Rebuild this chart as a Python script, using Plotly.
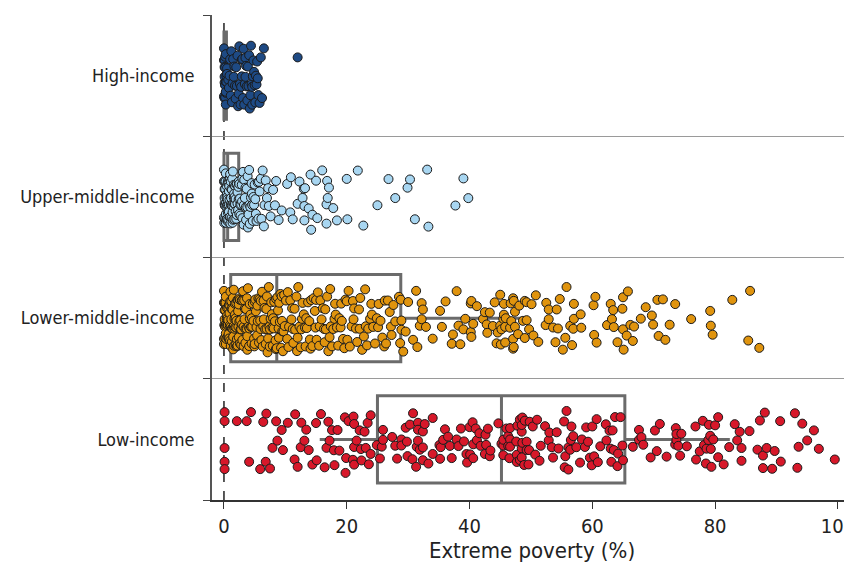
import plotly.graph_objects as go

categories = ["Low-income", "Lower-middle-income", "Upper-middle-income", "High-income"]
x_ticks = [0, 20, 40, 60, 80, 100]

high_income = [
    0.0, 0.0, 0.1, 0.1, 0.1, 0.2, 0.2, 0.2, 0.3, 0.3, 0.3, 0.3, 0.4, 0.4, 0.5, 0.5, 0.0, 0.1, 0.2, 0.3, 0.1, 0.2,
    0.7, 0.9, 1.1, 1.2, 1.4, 1.5, 1.7, 1.8, 2.0, 2.1, 2.2, 2.4, 2.5, 2.6, 2.8, 2.9, 3.0, 3.1, 3.3, 3.4, 3.5, 3.6,
    3.8, 3.9, 4.0, 4.1, 4.3, 4.4, 4.5, 4.6, 4.8, 4.9, 5.0, 5.2, 5.3, 5.5, 5.6, 5.8, 6.0, 6.2, 6.5, 1.0, 1.6, 2.3,
    2.7, 3.2, 3.7, 4.2, 4.7, 5.1, 5.4, 0.8, 1.3, 1.9, 2.9, 3.5, 4.6, 12.0,
]

upper_middle_income = [
    0.0, 0.0, 0.0, 0.1, 0.1, 0.1, 0.1, 0.2, 0.2, 0.2, 0.3, 0.3, 0.3, 0.4, 0.4, 0.4, 0.5, 0.5, 0.5, 0.6, 0.6, 0.6,
    0.7, 0.7, 0.7, 0.8, 0.8, 0.8, 0.9, 0.9, 1.0, 1.0, 1.0, 1.1, 1.1, 1.2, 1.2, 1.3, 1.3, 1.4, 1.4, 1.5, 1.5, 1.6,
    1.6, 1.7, 1.7, 1.8, 1.8, 1.9, 1.9, 2.0, 2.0, 2.1, 2.1, 2.2, 2.2, 2.3, 2.4, 2.4, 2.5, 2.5, 2.6, 2.7, 2.8, 2.9,
    3.0, 3.0, 3.1, 3.2, 3.3, 3.4, 3.5, 3.6, 3.7, 3.8, 3.9, 4.0, 4.1, 4.2, 4.3, 4.4, 4.5, 4.6, 4.7, 4.8, 4.9, 5.0,
    5.2, 5.3, 5.5, 5.6, 5.8, 6.0, 6.1, 6.3, 6.5, 6.8, 7.0, 7.3, 7.6, 8.0, 8.3, 0.05, 0.15, 0.25, 0.35, 0.45, 0.55,
    0.65, 0.75, 0.85, 0.95, 1.05, 1.15, 1.25, 1.35, 1.45, 1.55, 1.65, 1.75, 2.35, 2.65, 2.95, 3.25, 3.55, 3.85,
    4.15, 4.55, 5.1, 5.7, 6.6, 7.2,
    8.5, 8.9, 9.4, 10.3, 10.9, 10.8, 11.2, 12.0, 12.3, 12.8, 13.0, 13.1, 13.1, 13.2, 13.8, 14.1, 14.2, 14.4, 15.0,
    15.2, 16.0, 16.7, 16.7, 16.8, 16.9, 17.1, 17.8, 18.4, 20.0, 20.1, 21.8, 22.7, 25.0, 26.8, 27.9, 29.9, 30.3,
    31.1, 33.1, 33.3, 37.7, 39.0, 39.8,
]

lower_middle_income = [
    0.0, 0.0, 0.0, 0.0, 0.1, 0.1, 0.1, 0.2, 0.2, 0.2, 0.3, 0.3, 0.3, 0.4, 0.4, 0.5, 0.5, 0.6, 0.6, 0.7, 0.7, 0.8,
    0.8, 0.9, 0.9, 1.0, 1.0, 1.1, 1.1, 1.2, 1.2, 1.3, 1.3, 1.4, 1.4, 1.5, 1.5, 1.6, 1.6, 1.7, 1.7, 1.8, 1.8, 1.9,
    1.9, 2.0, 2.0, 2.1, 2.1, 2.2, 2.2, 2.3, 2.3, 2.4, 2.4, 2.5, 2.5, 2.6, 2.6, 2.7, 2.8, 2.8, 2.9, 3.0, 3.0, 3.1,
    3.2, 3.2, 3.3, 3.4, 3.5, 3.5, 3.6, 3.7, 3.8, 3.8, 3.9, 4.0, 4.1, 4.2, 4.2, 4.3, 4.4, 4.5, 4.6, 4.7, 4.8, 4.9,
    5.0, 5.0, 5.1, 5.2, 5.3, 5.4, 5.5, 5.6, 5.7, 5.8, 5.9, 6.0, 6.1, 6.2, 6.3, 6.4, 6.5, 6.6, 6.7, 6.8, 6.9, 7.0,
    7.1, 7.2, 7.3, 7.4, 7.5, 7.6, 7.7, 7.8, 7.9, 8.0, 8.1, 8.2, 8.3, 8.4, 8.5, 8.6, 8.7, 8.8, 8.9, 9.0, 9.1, 9.2,
    9.3, 9.4, 9.5, 9.6, 9.7, 9.8, 9.9, 0.05, 0.15, 0.25, 0.35, 0.45, 0.55, 0.65, 0.75, 0.85, 0.95, 1.05, 1.25,
    1.45, 1.65, 1.85, 2.05, 2.35, 2.65, 2.95, 3.35, 3.75, 4.15, 4.55, 4.95, 5.45, 5.95, 6.45, 6.95, 7.45, 7.95,
    8.45, 8.95, 9.45,
    10.1, 10.3, 10.5, 10.6, 10.8, 11.0, 11.1, 11.3, 11.5, 11.6, 11.8, 12.0, 12.1, 12.3, 12.5, 12.7, 12.8, 13.0,
    13.2, 13.4, 13.5, 13.7, 13.9, 14.0, 14.2, 14.4, 14.6, 14.8, 15.0, 15.1, 15.3, 15.5, 15.7, 15.9, 16.1, 16.3,
    16.5, 16.6, 16.8, 17.0, 17.2, 17.4, 17.6, 17.8, 18.0, 18.2, 18.4, 18.6, 18.8, 19.0, 19.2, 19.4, 19.6, 19.8,
    20.0, 20.3, 20.5, 20.8, 21.0, 21.2, 21.5, 21.7, 22.0, 22.2, 22.5, 22.8, 23.0, 23.3, 23.5, 23.8, 24.0, 24.3,
    24.6, 24.9, 25.2, 25.5, 25.8, 26.1, 26.4, 26.7, 27.0, 27.3, 27.6, 27.9, 10.4, 11.2, 11.9, 12.6, 13.3, 14.1,
    14.9, 15.6, 16.4, 17.3, 18.1, 19.1, 20.1, 21.1, 22.1, 23.1, 24.1, 25.1, 26.2, 27.2,
    28.5, 29.2, 30.0, 31.9, 32.2, 28.7, 28.9, 28.8, 28.9, 29.6, 30.8, 31.3, 31.5, 32.2, 32.4, 32.9, 34.0, 35.2,
    35.5, 36.1, 37.1, 37.3, 37.9, 38.2, 38.5, 39.0, 39.3, 40.2, 40.3, 40.2, 40.3, 40.6, 41.2, 42.2, 42.5, 42.8,
    42.9, 43.3, 43.8, 44.1, 44.4, 44.6, 45.1, 45.2, 45.6, 45.8, 46.8, 47.1, 47.1, 47.4, 48.1, 49.0, 49.3,
    45.0, 47.1, 47.2, 46.6, 47.4, 45.5, 45.0, 45.6, 45.8, 45.9, 46.7, 47.2, 47.9, 48.7, 49.0, 49.3, 49.7, 50.1,
    50.4, 51.2,
    50.8, 52.4, 52.5, 52.9, 52.9, 53.6, 54.0, 54.2, 54.4, 54.7, 55.6, 55.2, 55.8, 56.4, 56.9, 56.7, 57.0, 57.0,
    58.2, 58.1, 60.2, 60.5, 60.3, 60.7, 62.4, 63.5, 63.4, 63.0, 63.2, 64.1, 65.0, 65.6, 65.0, 65.1, 64.9, 65.8,
    66.6, 66.2, 66.8, 67.9, 68.7, 69.7, 69.9, 70.6, 70.8, 71.5, 71.9, 72.6, 73.5, 76.1, 79.2, 79.3, 79.6, 82.8,
    85.4, 85.7, 87.2,
]

low_income = [
    0.1, 0.1, 0.1, 0.1, 0.1, 2.1, 3.7, 4.1, 4.4, 5.9, 6.4, 6.8, 6.9, 7.5, 7.9, 8.7, 8.5, 9.6, 9.4, 10.4,
    11.6, 11.5, 12.0, 12.6, 12.5, 13.4, 13.1, 13.8, 14.4, 15.0, 15.1, 15.8, 16.7, 17.2, 17.6, 17.9, 18.5, 19.7,
    19.8, 19.9, 20.3, 21.0, 21.2, 21.1, 21.2, 21.2, 21.6, 22.1, 22.3, 22.4, 22.9, 23.1, 23.6, 23.4, 23.9, 23.9,
    24.9, 25.4, 25.7, 25.9, 25.9, 17.0, 18.0, 18.8, 16.4,
    27.9, 27.4, 28.2, 28.9, 28.9, 29.6, 29.8, 29.9, 30.3, 30.7, 30.8, 31.4, 31.6, 31.6, 31.6, 31.3, 31.9, 32.4,
    32.4, 32.4, 32.7, 33.3, 34.0, 34.0, 35.1, 35.2, 35.3, 35.7, 36.0, 36.5, 36.8, 37.1, 37.9, 38.2, 38.6, 39.1,
    39.5, 39.6, 40.0, 40.1, 40.5, 40.6, 40.6, 41.0, 41.2, 41.6, 41.8, 42.5, 42.6, 42.7, 43.0, 43.3, 43.4, 44.7,
    45.2, 45.5, 46.3, 46.6, 47.7, 48.2, 48.5, 48.6, 49.0, 46.6, 47.6, 48.5,
    45.5, 45.5, 46.3, 46.0, 46.5, 46.6, 47.7, 47.8, 48.2, 48.5, 48.5, 48.6, 48.9, 49.3, 49.3, 49.6, 49.7, 49.8,
    50.3, 50.7, 51.0, 51.4, 51.6, 52.3, 52.9, 53.0, 53.4, 53.6, 54.2, 54.5, 55.4, 55.5, 55.6, 55.8, 56.1, 56.1,
    56.4, 56.5, 56.6, 56.9, 57.4, 58.0, 58.3, 58.8, 59.0, 59.3, 59.6, 59.9, 60.0, 60.3, 60.7, 60.9, 61.3, 62.2,
    62.3, 62.8, 63.0, 63.1, 63.3, 63.5, 63.7, 64.1, 64.2, 64.6, 65.0, 64.9,
    66.6, 67.6, 67.6, 68.0, 68.3, 69.5, 70.2, 70.5, 71.0, 72.1, 73.5, 73.6, 73.7, 73.7, 74.0, 74.3, 74.5, 75.4,
    76.8, 76.9, 77.5, 78.0, 78.2, 78.5, 78.6, 78.9, 79.0, 79.2, 79.3, 79.4, 79.7, 80.0, 80.5, 80.5, 81.4, 82.3,
    83.2, 83.6, 84.0, 84.3, 84.3, 85.6, 86.9, 87.3, 87.8, 87.8, 88.1, 88.4, 89.3, 89.7, 90.6, 90.7, 93.0, 93.4,
    93.6, 94.2, 95.0, 96.1, 96.9, 99.5,
]

# Box summary statistics (q1, median, q3, lower whisker, upper whisker)
box_q1 = [25.0, 1.1, 0.0, 0.0]
box_median = [45.2, 8.6, 0.6, 0.1]
box_q3 = [65.3, 28.8, 2.4, 0.4]
box_lower = [15.6, 0.0, 0.0, 0.0]
box_upper = [82.4, 48.5, 5.5, 0.8]

series = [low_income, lower_middle_income, upper_middle_income, high_income]
colors = ["#D7182A", "#E0940E", "#A8D6F1", "#1E4A84"]

centers = [0.5, 1.5, 2.5, 3.5]
bin_edges = [0, 1, 3, 6, 10, 15, 20, 30, 40, 50, 60, 70, 80, 90, 101]

fig = go.Figure()

# boxes (drawn beneath the points)
for i, c in enumerate(categories):
    fig.add_trace(go.Box(
        y=[centers[i]], q1=[box_q1[i]], median=[box_median[i]], q3=[box_q3[i]],
        lowerfence=[box_lower[i]], upperfence=[box_upper[i]],
        orientation="h", width=0.72, whiskerwidth=0,
        fillcolor="rgba(0,0,0,0)", line=dict(color="#6b6b6b", width=3),
        boxpoints=False, showlegend=False, hoverinfo="skip",
    ))

# jittered points, split into value ranges so sparse tails spread too
for i, c in enumerate(categories):
    vals = sorted(series[i])
    for a, b in zip(bin_edges[:-1], bin_edges[1:]):
        chunk = [v for v in vals if a <= v < b]
        if not chunk:
            continue
        fig.add_trace(go.Box(
            x=chunk, y0=centers[i], orientation="h", width=0.58,
            boxpoints="all", jitter=1, pointpos=0,
            fillcolor="rgba(0,0,0,0)", line=dict(color="rgba(0,0,0,0)", width=0),
            marker=dict(size=9, color=colors[i], line=dict(color="#1a1a1a", width=1)),
            showlegend=False, name=c, hoveron="points",
        ))

fig.add_shape(type="line", x0=0, x1=0, xref="x", y0=0, y1=1, yref="paper",
              line=dict(color="black", width=1.3, dash="dash"), layer="below")

font_family = "DejaVu Sans Condensed, Liberation Sans Narrow, Roboto, sans-serif"

# the page body adds an 8px offset, so the figure is 8px smaller in each direction
fig.update_layout(
    width=844, height=558,
    margin=dict(l=204, r=0, t=7, b=66, autoexpand=False),
    plot_bgcolor="white", paper_bgcolor="white",
    font=dict(family=font_family, size=20, color="#222222"),
    boxmode="overlay",
    xaxis=dict(
        range=[-1.95, 102.3], tickvals=x_ticks, ticktext=[str(t) for t in x_ticks],
        showgrid=False, zeroline=False, showline=True, linecolor="#333333", linewidth=1.5,
        ticks="outside", ticklen=7, tickcolor="#333333", automargin=False,
        ticklabeloverflow="allow",
        title=dict(text="Extreme poverty (%)", standoff=0, font=dict(size=22)),
    ),
    yaxis=dict(
        range=[0, 4], tickvals=centers, ticktext=categories, automargin=False,
        ticklabeloverflow="allow", tickfont=dict(size=18),
        showgrid=False, zeroline=False, showline=True, linecolor="#555555", linewidth=2,
        ticks="outside", ticklen=12, tickcolor="rgba(0,0,0,0)",
        minor=dict(tickvals=[0, 1, 2, 3, 4], ticks="outside", ticklen=7, tickcolor="#444444",
                   showgrid=True, gridcolor="#9a9a9a", gridwidth=1),
    ),
)

fig.write_html("out.html")
